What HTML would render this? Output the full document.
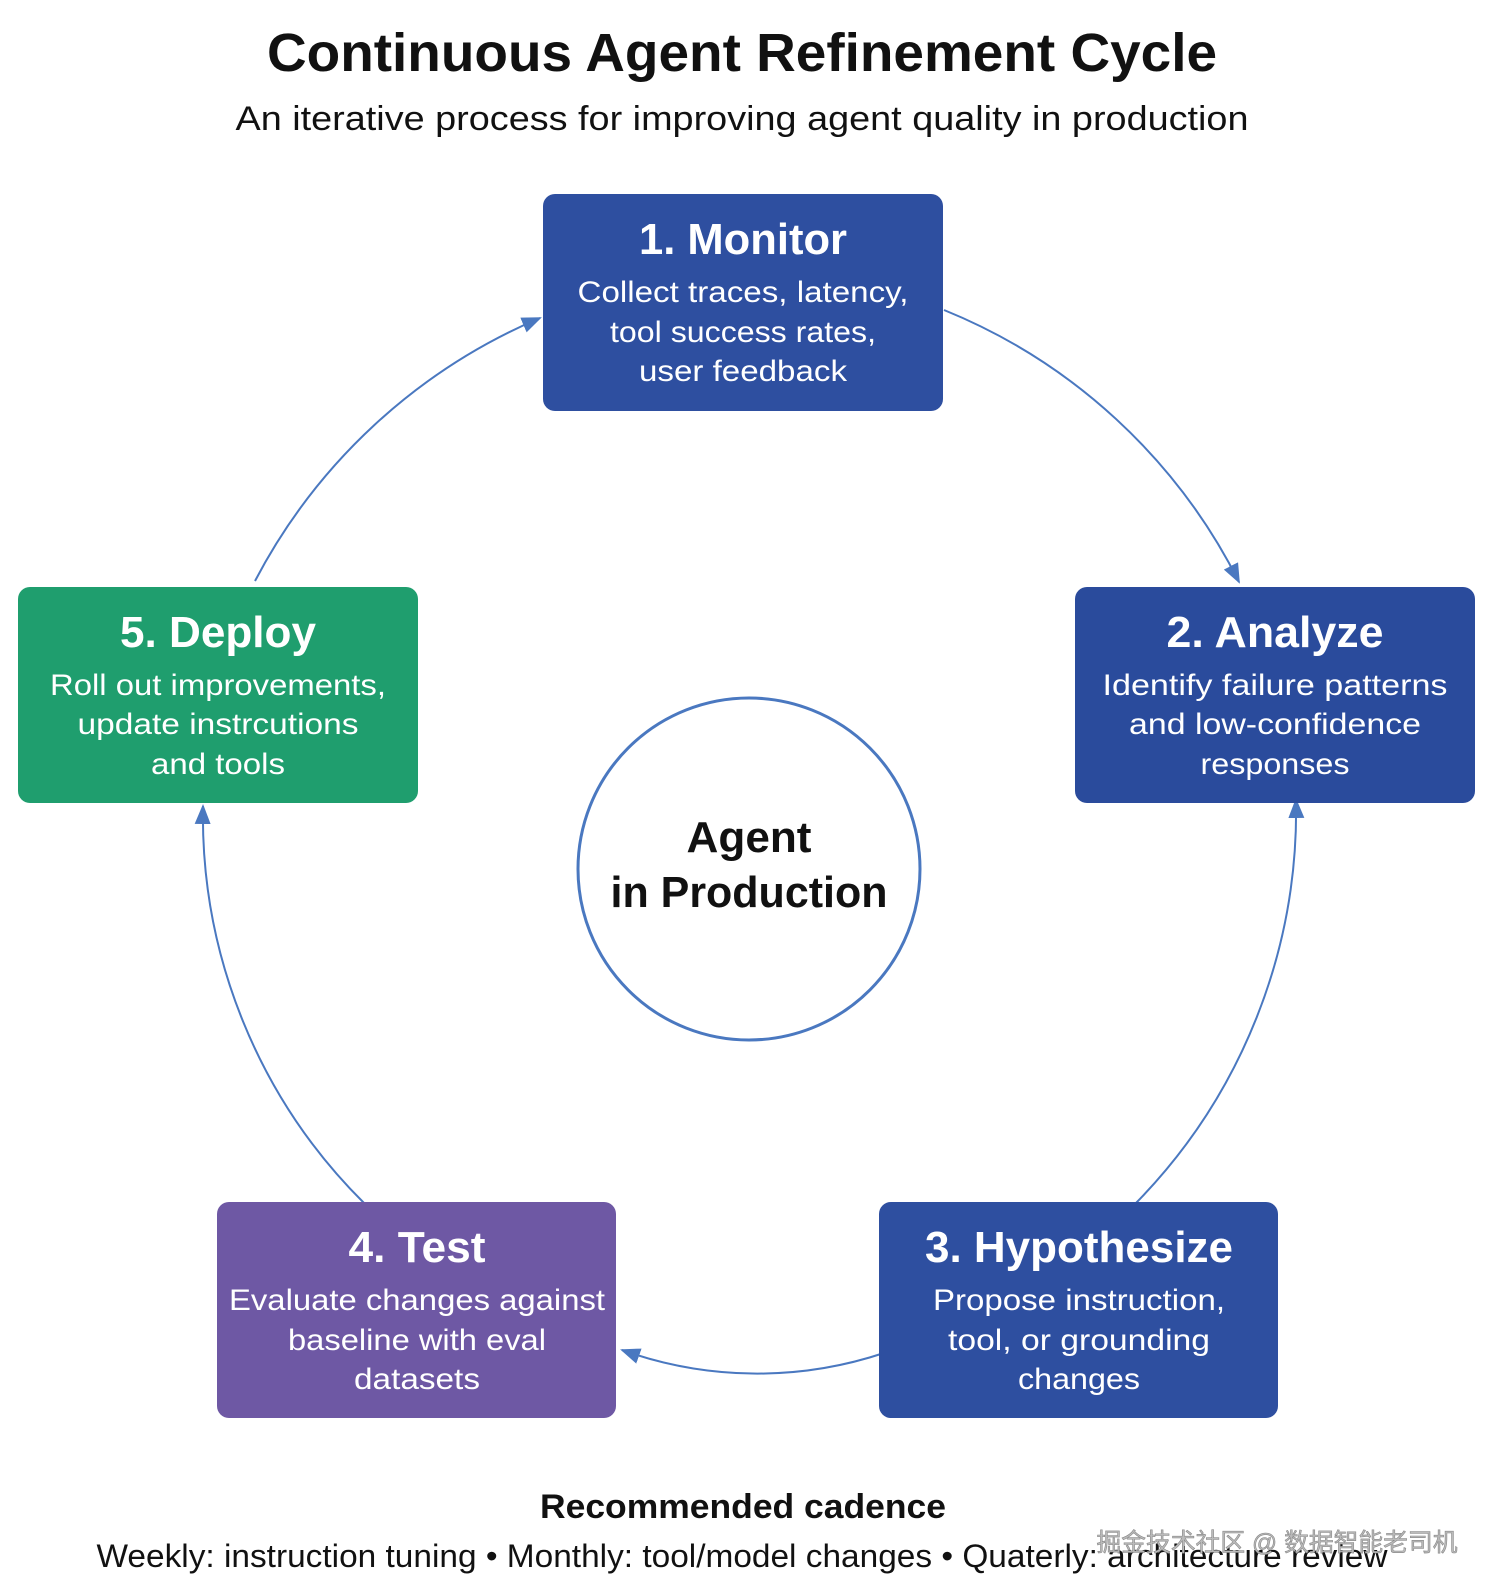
<!DOCTYPE html>
<html><head><meta charset="utf-8"><style>html,body{margin:0;padding:0;background:#fff}svg{display:block}</style></head>
<body>
<svg width="1495" height="1594" viewBox="0 0 1495 1594" xmlns="http://www.w3.org/2000/svg" font-family="Liberation Sans, sans-serif">
<defs>
<marker id="ah" markerWidth="20" markerHeight="16" refX="18" refY="8" orient="auto" markerUnits="userSpaceOnUse">
<path d="M0,0 L20,8 L0,16 Z" fill="#4a78c0"/>
</marker>
</defs>
<rect width="1495" height="1594" fill="#fff"/>
<text x="742" y="71" text-anchor="middle" font-size="54" font-weight="bold" fill="#111" textLength="950" lengthAdjust="spacingAndGlyphs">Continuous Agent Refinement Cycle</text>
<text x="742" y="130" text-anchor="middle" font-size="34" fill="#111" textLength="1013" lengthAdjust="spacingAndGlyphs">An iterative process for improving agent quality in production</text>

<g fill="none" stroke="#4a78c0" stroke-width="2" marker-end="url(#ah)">
<path d="M944,310 A570 570 0 0 1 1239,582"/>
<path d="M1136,1203 A560 560 0 0 0 1296,800"/>
<path d="M884,1353 A400 400 0 0 1 622,1350"/>
<path d="M364,1203 A545 545 0 0 1 203,806"/>
<path d="M255,581 A575 575 0 0 1 540,318"/>
</g>

<rect x="543" y="194" width="400" height="217" rx="12" fill="#2e4fa0"/>
<rect x="1075" y="587" width="400" height="216" rx="12" fill="#2a4b9c"/>
<rect x="879" y="1202" width="399" height="216" rx="12" fill="#2e4fa0"/>
<rect x="217" y="1202" width="399" height="216" rx="12" fill="#6e58a4"/>
<rect x="18" y="587" width="400" height="216" rx="12" fill="#1f9e6e"/>

<g fill="#fff" text-anchor="middle">
<text x="743" y="254" font-size="44" font-weight="bold" textLength="208" lengthAdjust="spacingAndGlyphs">1. Monitor</text>
<text x="743" y="302" font-size="30" textLength="331" lengthAdjust="spacingAndGlyphs">Collect traces, latency,</text>
<text x="743" y="342" font-size="30" textLength="266" lengthAdjust="spacingAndGlyphs">tool success rates,</text>
<text x="743" y="381" font-size="30" textLength="208" lengthAdjust="spacingAndGlyphs">user feedback</text>

<text x="1275" y="647" font-size="44" font-weight="bold" textLength="217" lengthAdjust="spacingAndGlyphs">2. Analyze</text>
<text x="1275" y="695" font-size="30" textLength="345" lengthAdjust="spacingAndGlyphs">Identify failure patterns</text>
<text x="1275" y="734" font-size="30" textLength="292" lengthAdjust="spacingAndGlyphs">and low-confidence</text>
<text x="1275" y="774" font-size="30" textLength="149" lengthAdjust="spacingAndGlyphs">responses</text>

<text x="1079" y="1262" font-size="44" font-weight="bold" textLength="308" lengthAdjust="spacingAndGlyphs">3. Hypothesize</text>
<text x="1079" y="1310" font-size="30" textLength="292" lengthAdjust="spacingAndGlyphs">Propose instruction,</text>
<text x="1079" y="1350" font-size="30" textLength="262" lengthAdjust="spacingAndGlyphs">tool, or grounding</text>
<text x="1079" y="1389" font-size="30" textLength="122" lengthAdjust="spacingAndGlyphs">changes</text>

<text x="417" y="1262" font-size="44" font-weight="bold" textLength="137" lengthAdjust="spacingAndGlyphs">4. Test</text>
<text x="417" y="1310" font-size="30" textLength="376" lengthAdjust="spacingAndGlyphs">Evaluate changes against</text>
<text x="417" y="1350" font-size="30" textLength="258" lengthAdjust="spacingAndGlyphs">baseline with eval</text>
<text x="417" y="1389" font-size="30" textLength="126" lengthAdjust="spacingAndGlyphs">datasets</text>

<text x="218" y="647" font-size="44" font-weight="bold" textLength="196" lengthAdjust="spacingAndGlyphs">5. Deploy</text>
<text x="218" y="695" font-size="30" textLength="336" lengthAdjust="spacingAndGlyphs">Roll out improvements,</text>
<text x="218" y="734" font-size="30" textLength="281" lengthAdjust="spacingAndGlyphs">update instrcutions</text>
<text x="218" y="774" font-size="30" textLength="134" lengthAdjust="spacingAndGlyphs">and tools</text>
</g>

<circle cx="749" cy="869" r="171" fill="#fff" stroke="#4a78c0" stroke-width="3"/>
<text x="749" y="852" text-anchor="middle" font-size="44" font-weight="bold" fill="#111" textLength="125" lengthAdjust="spacingAndGlyphs">Agent</text>
<text x="749" y="907" text-anchor="middle" font-size="44" font-weight="bold" fill="#111" textLength="277" lengthAdjust="spacingAndGlyphs">in Production</text>

<text x="743" y="1518" text-anchor="middle" font-size="34" font-weight="bold" fill="#111" textLength="406" lengthAdjust="spacingAndGlyphs">Recommended cadence</text>
<text x="742" y="1567" text-anchor="middle" font-size="32" fill="#111" textLength="1291" lengthAdjust="spacingAndGlyphs">Weekly: instruction tuning • Monthly: tool/model changes • Quaterly: architecture review</text>
<text x="1277" y="1551" text-anchor="middle" font-size="25" fill="#bbb" stroke="#888" stroke-width="0.6" font-family="Liberation Sans, Noto Sans CJK SC, sans-serif" textLength="361" lengthAdjust="spacingAndGlyphs">掘金技术社区 @ 数据智能老司机</text>
</svg>
</body></html>
